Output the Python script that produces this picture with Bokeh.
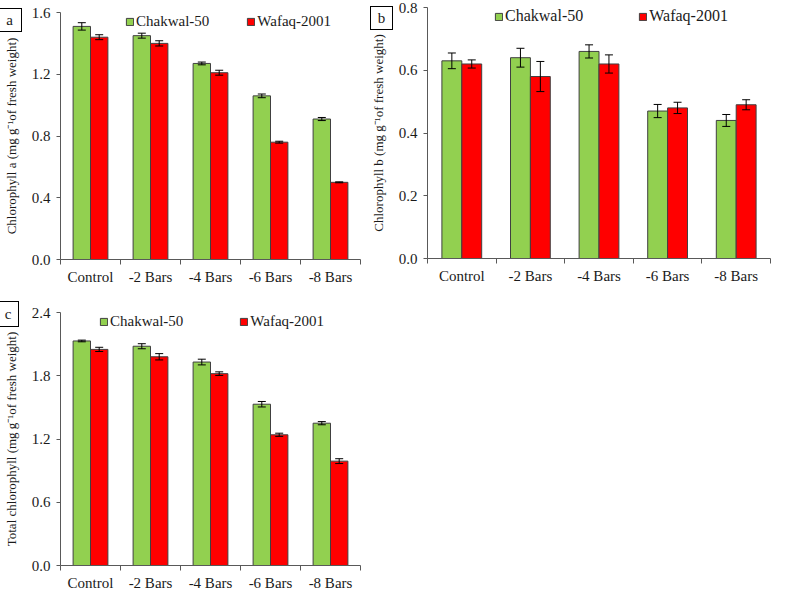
from bokeh.plotting import figure
from bokeh.models import (Range1d, FixedTicker, PrintfTickFormatter, Whisker, TeeHead,
                          ColumnDataSource, Legend, LegendItem, Div)
from bokeh.transform import dodge
from bokeh.layouts import row, column
from bokeh.embed import file_html
from bokeh.resources import INLINE

# ---------------- data ----------------
categories = ["Control", "-2 Bars", "-4 Bars", "-6 Bars", "-8 Bars"]
series_names = ["Chakwal-50", "Wafaq-2001"]

chl_a_chakwal = [1.51, 1.45, 1.27, 1.06, 0.91]
chl_a_chakwal_se = [0.024, 0.016, 0.009, 0.012, 0.010]
chl_a_wafaq = [1.44, 1.40, 1.21, 0.76, 0.50]
chl_a_wafaq_se = [0.016, 0.017, 0.016, 0.006, 0.003]

chl_b_chakwal = [0.63, 0.64, 0.66, 0.47, 0.44]
chl_b_chakwal_se = [0.025, 0.030, 0.021, 0.021, 0.019]
chl_b_wafaq = [0.62, 0.58, 0.62, 0.48, 0.49]
chl_b_wafaq_se = [0.013, 0.048, 0.029, 0.018, 0.016]

total_chakwal = [2.13, 2.08, 1.93, 1.53, 1.35]
total_chakwal_se = [0.008, 0.024, 0.027, 0.026, 0.015]
total_wafaq = [2.05, 1.98, 1.82, 1.24, 0.99]
total_wafaq_se = [0.020, 0.030, 0.017, 0.015, 0.023]

ticks_a = [0.0, 0.4, 0.8, 1.2, 1.6]
ticks_b = [0.0, 0.2, 0.4, 0.6, 0.8]
ticks_c = [0.0, 0.6, 1.2, 1.8, 2.4]

panel_letters = ["a", "b", "c"]

# ---------------- style ----------------
GREEN = "#92D050"
RED = "#FF0000"
EDGE = "#404040"
AXIS = "#595959"
TXT = "#1a1a1a"
FONT = "Liberation Serif"
OFF = 0.145
BW = 0.29

n = len(categories)
positions = list(range(1, n + 1))                 # category centres on the numeric axis
boundaries = [k + 0.5 for k in range(0, n + 1)]  # tick marks between categories


def make_panel(ylabel, green, green_se, red, red_se, ticks,
               W, H, bl, br, bt, bb, leg_x, leg_dy, leg_font, leg_spacing):
    p = figure(width=W, height=H, x_range=Range1d(boundaries[0], boundaries[-1]),
               y_range=Range1d(0, ticks[-1]), output_backend="svg",
               toolbar_location=None, title=None,
               min_border_left=bl, min_border_right=br,
               min_border_top=bt, min_border_bottom=bb)
    p.outline_line_color = None
    p.xgrid.visible = False
    p.ygrid.visible = False
    p.background_fill_color = "white"
    p.border_fill_color = "white"

    src = ColumnDataSource(dict(
        pos=positions, cat=categories, g=green, r=red,
        g_lo=[v - e for v, e in zip(green, green_se)],
        g_hi=[v + e for v, e in zip(green, green_se)],
        r_lo=[v - e for v, e in zip(red, red_se)],
        r_hi=[v + e for v, e in zip(red, red_se)],
    ))
    rg = p.vbar(x=dodge("pos", -OFF), top="g", width=BW,
                source=src, fill_color=GREEN, line_color=EDGE, line_width=1)
    rr = p.vbar(x=dodge("pos", OFF), top="r", width=BW,
                source=src, fill_color=RED, line_color=EDGE, line_width=1)
    for off, lo, hi in ((-OFF, "g_lo", "g_hi"), (OFF, "r_lo", "r_hi")):
        w = Whisker(base=dodge("pos", off), lower=lo, upper=hi,
                    source=src, line_color="black", line_width=1, level="overlay",
                    upper_head=TeeHead(size=8, line_color="black", line_width=1),
                    lower_head=TeeHead(size=8, line_color="black", line_width=1))
        p.add_layout(w)

    # y axis
    ya = p.yaxis[0]
    ya.ticker = FixedTicker(ticks=ticks)
    ya.formatter = PrintfTickFormatter(format="%.1f")
    ya.axis_line_color = AXIS
    ya.major_tick_line_color = AXIS
    ya.major_tick_out = 4
    ya.major_tick_in = 0
    ya.minor_tick_line_color = None
    ya.major_label_standoff = 6
    ya.major_label_text_font = FONT
    ya.major_label_text_font_size = "15px"
    ya.major_label_text_color = TXT
    ya.axis_label = ylabel
    ya.axis_label_text_font = FONT
    ya.axis_label_text_font_size = "13px"
    ya.axis_label_text_font_style = "normal"
    ya.axis_label_text_color = TXT
    ya.axis_label_standoff = 10

    # x axis: labels at category centres, tick marks between categories
    xa = p.xaxis[0]
    xa.ticker = FixedTicker(ticks=positions, minor_ticks=boundaries)
    xa.major_label_overrides = {k: c for k, c in zip(positions, categories)}
    xa.axis_line_color = AXIS
    xa.major_tick_line_color = None
    xa.major_tick_out = 5
    xa.major_tick_in = 0
    xa.minor_tick_line_color = AXIS
    xa.minor_tick_out = 5
    xa.minor_tick_in = 0
    xa.major_label_standoff = 4
    xa.major_label_text_font = FONT
    xa.major_label_text_font_size = "15px"
    xa.major_label_text_color = TXT

    frame_h = H - bt - bb
    leg = Legend(items=[LegendItem(label=series_names[0], renderers=[rg]),
                        LegendItem(label=series_names[1], renderers=[rr])],
                 orientation="horizontal", location=(leg_x, frame_h - leg_dy),
                 border_line_color=None, background_fill_alpha=0,
                 padding=0, margin=0, spacing=leg_spacing,
                 glyph_width=9, glyph_height=9, label_height=18,
                 label_standoff=2, label_text_font=FONT,
                 label_text_font_size=leg_font, label_text_color=TXT)
    p.add_layout(leg)
    return p


def letter_box(letter, left, top, w, h):
    return Div(text=letter, width=w, height=h, styles={
        "position": "absolute", "left": f"{left}px", "top": f"{top}px",
        "width": f"{w}px", "height": f"{h}px", "box-sizing": "border-box",
        "border": "1px solid black", "background-color": "white",
        "text-align": "center", "line-height": f"{h - 2}px",
        "font-family": FONT, "font-size": "15px", "color": TXT, "z-index": "5"})


pa = make_panel("Chlorophyll a (mg g\u207b\u00b9of fresh weight)",
                chl_a_chakwal, chl_a_chakwal_se, chl_a_wafaq, chl_a_wafaq_se, ticks_a,
                W=364, H=300, bl=55, br=4, bt=12, bb=41,
                leg_x=65, leg_dy=18, leg_font="15px", leg_spacing=37)
pb = make_panel("Chlorophyll b (mg g\u207b\u00b9of fresh weight)",
                chl_b_chakwal, chl_b_chakwal_se, chl_b_wafaq, chl_b_wafaq_se, ticks_b,
                W=407, H=300, bl=63, br=1, bt=7, bb=42,
                leg_x=67, leg_dy=18, leg_font="16px", leg_spacing=55)
pc = make_panel("Total chlorophyll (mg g\u207b\u00b9of fresh weight)",
                total_chakwal, total_chakwal_se, total_wafaq, total_wafaq_se, ticks_c,
                W=364, H=293, bl=52, br=1, bt=12, bb=28,
                leg_x=39, leg_dy=18, leg_font="15px", leg_spacing=56)

box_a = letter_box(panel_letters[0], -8, 3, 25, 24)
box_b = letter_box(panel_letters[1], 365, 1, 23, 24)
box_c = letter_box(panel_letters[2], -8, 296, 22, 26)

layout = row(column(pa, pc), pb, box_a, box_b, box_c)
open("out.html", "w").write(file_html(layout, INLINE))
